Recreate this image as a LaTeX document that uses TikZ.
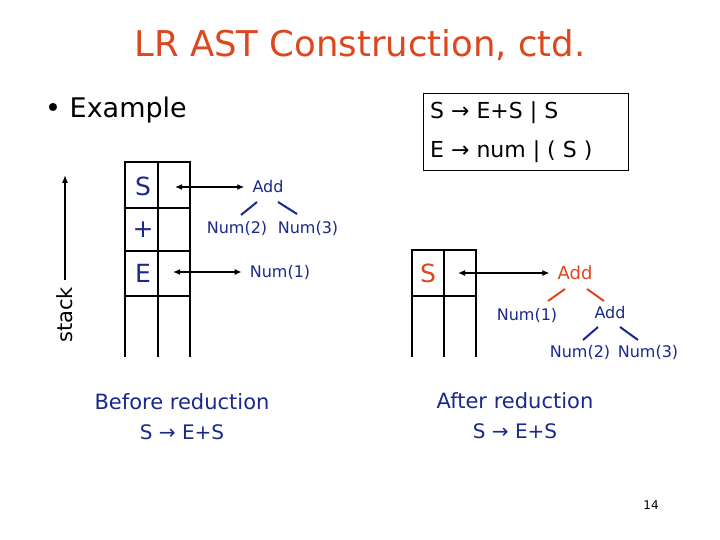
\documentclass[tikz,border=0pt]{standalone}
\usepackage{fontspec}
\usetikzlibrary{arrows.meta}
\setmainfont{DejaVu Sans}
\definecolor{ttl}{RGB}{222,70,30}
\definecolor{dblue}{RGB}{25,40,140}
\begin{document}
\begin{tikzpicture}[x=1pt,y=-1pt,
  grid/.style={line width=2.6pt},
  lbl/.style={inner sep=0pt,text=dblue,font=\fontsize{16}{18}\selectfont},
  big/.style={inner sep=0pt,font=\fontsize{25}{28}\selectfont},
  arr/.style={{Latex[length=7pt,width=6pt]}-{Latex[length=7pt,width=6pt]},line width=1.3pt,shorten >=8pt},
  tl/.style={line width=2pt}]
\useasboundingbox (0,0) rectangle (720,540);
\node[inner sep=0pt,text=ttl,font=\fontsize{35.5}{38}\selectfont] (title) at (360,45) {LR AST Construction, ctd.};
\node[inner sep=0pt,anchor=west,font=\fontsize{27}{30}\selectfont] (ex) at (45,110) {• Example};
\node[draw,line width=1pt,minimum width=205pt,minimum height=77pt,anchor=north west,inner sep=0pt] (gbox) at (423,93) {};
\node[inner sep=0pt,anchor=west,font=\fontsize{22}{24}\selectfont] (g1) at (430,113) {S → E+S | S};
\node[inner sep=0pt,anchor=west,font=\fontsize{22}{24}\selectfont] (g2) at (430,152) {E → num | ( S )};
% left stack
\draw[grid] (125,357) -- (125,162) -- (190,162) -- (190,357);
\draw[grid] (158,162) -- (158,357);
\draw[grid] (125,208) -- (190,208) (125,251) -- (190,251) (125,296) -- (190,296);
\node[big,text=dblue] (s1) at (143,186) {S};
\node[big,text=dblue] (p1) at (143,230) {+};
\node[big,text=dblue] (e1) at (143,273) {E};
\coordinate (a1) at (175,187);
\coordinate (a2) at (173,272);
\node[lbl] (add1) at (268,187) {Add};
\node[lbl] (n2) at (237,228) {Num(2)};
\node[lbl] (n3) at (308,228) {Num(3)};
\node[lbl] (n1) at (280,272) {Num(1)};
\draw[arr] (a1) -- (add1.west);
\draw[arr] (a2) -- (n1.west);
\draw[tl,dblue] (241,215) -- (257,202) (278,202) -- (297,214);
% stack arrow
\coordinate (st2) at (65,175);
\draw[-{Latex[length=8pt,width=6pt]},line width=1.3pt] (65,280) -- (st2);
\node[inner sep=0pt,rotate=90,font=\fontsize{21}{24}\selectfont] (stk) at (65,315) {stack};
% right stack
\draw[grid] (412,357) -- (412,250) -- (476,250) -- (476,357);
\draw[grid] (444,250) -- (444,357);
\draw[grid] (412,296) -- (476,296);
\node[big,text=ttl] (s2) at (428,273) {S};
\coordinate (a3) at (458,273);
\node[lbl,text=ttl,font=\fontsize{18}{20}\selectfont] (add2) at (575,273) {Add};
\node[lbl] (m1) at (527,315) {Num(1)};
\node[lbl] (add3) at (610,313) {Add};
\node[lbl] (m2) at (580,352) {Num(2)};
\node[lbl] (m3) at (648,352) {Num(3)};
\draw[arr] (a3) -- (add2.west);
\draw[tl,ttl] (548,301) -- (565,289) (587,289) -- (604,301);
\draw[tl,dblue] (583,340) -- (598,327) (620,327) -- (638,340);
% captions
\node[inner sep=0pt,text=dblue,font=\fontsize{21}{24}\selectfont] (br) at (182,402) {Before reduction};
\node[inner sep=0pt,text=dblue,font=\fontsize{20}{22}\selectfont] (br2) at (182,432) {S → E+S};
\node[inner sep=0pt,text=dblue,font=\fontsize{21}{24}\selectfont] (ar) at (515,401) {After reduction};
\node[inner sep=0pt,text=dblue,font=\fontsize{20}{22}\selectfont] (ar2) at (515,431) {S → E+S};
\node[inner sep=0pt,font=\fontsize{12}{14}\selectfont] (pg) at (651,505) {14};
\end{tikzpicture}
\end{document}
